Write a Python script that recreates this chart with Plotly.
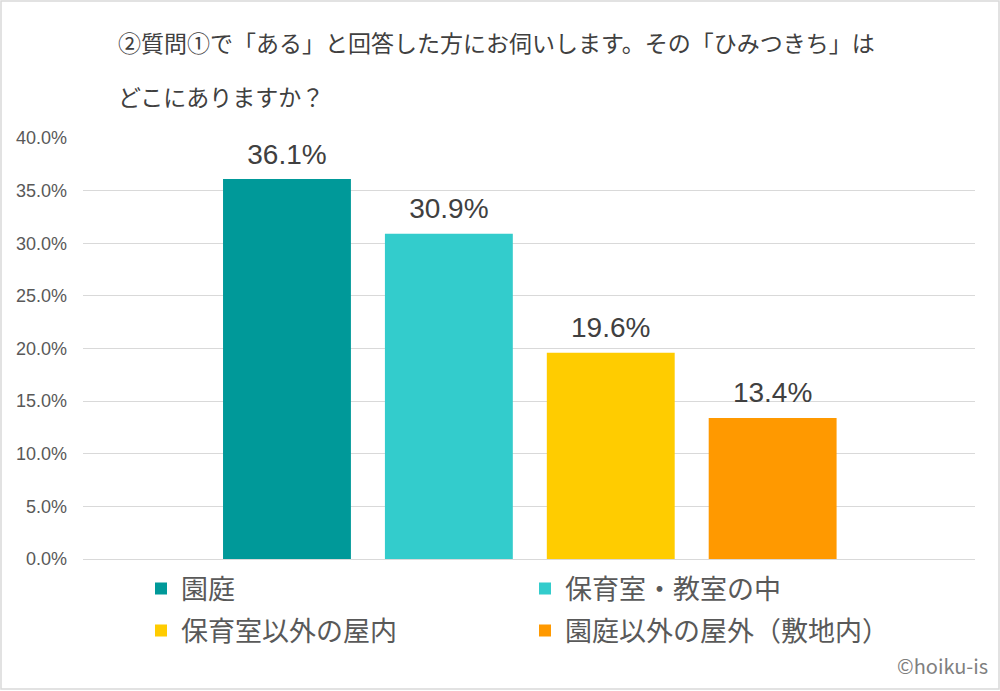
import plotly.graph_objects as go

categories = ["園庭", "保育室・教室の中", "保育室以外の屋内", "園庭以外の屋外（敷地内）"]
values = [36.1, 30.9, 19.6, 13.4]
colors = ["#009999", "#33CCCC", "#FFCC00", "#FF9900"]
tick_vals = [0, 5, 10, 15, 20, 25, 30, 35, 40]
tick_text = [f"{v:.1f}%" for v in tick_vals]

JP = "Noto Sans CJK JP, Noto Sans, sans-serif"
W, H = 1000, 691
ML, MR, MT, MB = 83, 25, 138, 132
PW, PH = W - ML - MR, H - MT - MB


def px_x(px):
    return (px - ML) / PW


def px_y(py):
    return (H - MB - py) / PH


legend_names = ["legend", "legend2", "legend3", "legend4"]
legend_pos = [(141, 589), (525, 589), (141, 631), (525, 631)]

fig = go.Figure()
for i, (c, v, col) in enumerate(zip(categories, values, colors)):
    fig.add_trace(go.Bar(
        x=[i], y=[v], name=c, marker=dict(color=col, line=dict(width=0)),
        width=0.79, legend=legend_names[i], showlegend=True,
    ))

fig.add_trace(go.Scatter(
    x=list(range(len(values))), y=values, mode="markers+text",
    marker=dict(size=12, color="rgba(0,0,0,0)"),
    text=[f"{v:.1f}%" for v in values], textposition="top center",
    textfont=dict(family="Liberation Sans, Arial", size=28, color="#404040"),
    showlegend=False, cliponaxis=False, hoverinfo="skip",
))

layout_legends = {}
for name, (lx, ly) in zip(legend_names, legend_pos):
    layout_legends[name] = dict(
        x=px_x(lx), xanchor="left", y=px_y(ly), yanchor="middle",
        orientation="h",
        font=dict(family=JP, size=27, color="#595959"),
        bgcolor="rgba(0,0,0,0)", borderwidth=0,
    )

fig.update_layout(
    width=W, height=H,
    margin=dict(l=ML, r=MR, t=MT, b=MB),
    paper_bgcolor="white", plot_bgcolor="white",
    barmode="overlay",
    xaxis=dict(range=[-1.26, 4.25], showticklabels=False, showgrid=False,
               zeroline=False, showline=False, fixedrange=True),
    yaxis=dict(range=[0, 40], tickvals=tick_vals, ticktext=tick_text,
               showgrid=True, gridcolor="#D9D9D9", gridwidth=1,
               zeroline=True, zerolinecolor="#D9D9D9", zerolinewidth=1,
               tickfont=dict(family="Liberation Sans, Arial", size=18, color="#595959"),
               ticks="", ticklabelstandoff=15),
    font=dict(family=JP),
    **layout_legends,
)

# Title (two lines)
fig.add_annotation(xref="paper", yref="paper", x=px_x(116), y=px_y(42),
                   xanchor="left", yanchor="middle", showarrow=False,
                   text="②質問①で「ある」と回答した方にお伺いします。その「ひみつきち」は",
                   font=dict(family=JP, size=23, color="#404040"))
fig.add_annotation(xref="paper", yref="paper", x=px_x(116), y=px_y(96),
                   xanchor="left", yanchor="middle", showarrow=False,
                   text="どこにありますか？",
                   font=dict(family=JP, size=23, color="#404040"))
# Copyright
fig.add_annotation(xref="paper", yref="paper", x=px_x(990), y=px_y(665),
                   xanchor="right", yanchor="middle", showarrow=False,
                   text="©hoiku-is",
                   font=dict(family=JP, size=20, color="#7F7F7F"))
# Border
fig.add_shape(type="rect", xref="paper", yref="paper",
              x0=px_x(1), x1=px_x(999), y0=px_y(689), y1=px_y(1),
              line=dict(color="#D9D9D9", width=1.5), fillcolor="rgba(0,0,0,0)", layer="below")

fig.write_html("out.html")
